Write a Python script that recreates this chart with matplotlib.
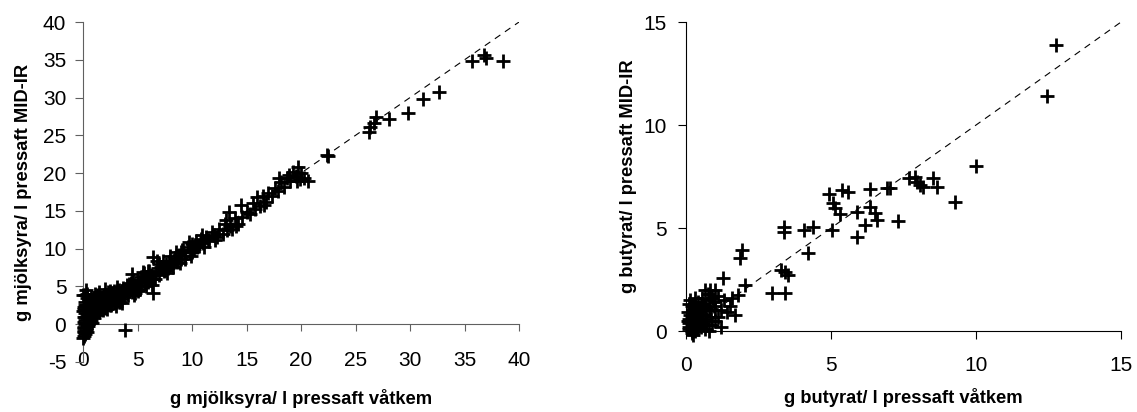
import matplotlib
matplotlib.use("Agg")
import matplotlib.pyplot as plt

plt.rcParams['font.family'] = ['Liberation Sans', 'DejaVu Sans']
plt.rcParams['axes.unicode_minus'] = False

# mjölksyra (lactic acid), wet chemistry vs MID-IR
lac_wet = [
    0.05, 0.1, 0.1, 0.15, 0.2, 0.1, 0.2, 0.1, 0.3, 0.2, 0.4, 0.3, 0.25, 0.3, 0.4, 0.5,
    0.5, 0.6, 0.6, 0.7, 0.8, 0.8, 0.9, 1.0, 1.0, 0.35, 0.45, 0.55, 0.65, 0.75, 0.15, 0.05,
    0.05, 0.2, 0.35, 0.9, 1.1, 0.4,
    0.6, 0.8, 1.0, 1.2, 1.4, 0.3, 0.5, 0.7, 0.9, 1.1, 1.3, 1.6, 1.8, 0.2, 0.4, 0.6,
    0.0, 0.0, 0.0, 0.1, 0.1, 0.2,
    1.2, 1.3, 1.4, 1.5, 1.6, 1.7, 1.8, 1.9, 2.0, 2.0, 2.1, 2.2, 2.3, 2.4, 2.5, 2.6,
    2.7, 2.8, 2.9, 3.0, 3.1, 1.1, 1.5, 2.5, 3.2, 3.3, 3.85,
    1.5, 1.9, 2.3, 2.7, 3.1, 3.4, 3.7, 4.0, 2.2, 2.6, 3.0, 3.4,
    3.5, 3.6, 3.8, 4.0, 4.1, 4.3, 4.5, 4.5, 4.7, 4.9, 5.0, 5.2, 5.4, 5.5, 5.7, 5.9,
    6.0, 6.2, 6.4, 6.45, 6.45, 6.7, 6.9, 7.0,
    4.2, 4.6, 5.0, 5.3, 5.6, 6.0, 6.3, 6.6, 4.8, 5.8, 6.8, 7.5,
    2.0, 2.8, 3.6, 4.4, 5.2, 6.1, 3.3, 4.7, 5.5,
    7.2, 7.4, 7.6, 7.8, 8.0, 8.2, 8.4, 8.6, 8.8, 9.0, 9.2, 9.4, 9.6, 9.8, 10.0, 10.2,
    10.4, 10.6, 10.8, 11.0, 11.3, 11.6, 12.0, 12.3, 7.0, 8.0, 9.0, 10.0,
    7.3, 7.9, 8.5, 9.1, 9.7, 10.3, 10.9, 11.5, 8.3, 9.4, 10.5, 11.8,
    7.7, 8.9, 9.9, 11.1, 12.1,
    12.5, 12.8, 13.0, 13.2, 13.4, 13.5, 13.7, 13.9, 14.2, 14.5, 14.6, 15.0, 15.3, 15.6,
    15.8, 16.0, 16.2, 16.5, 16.8, 17.0, 17.3, 17.6, 17.9, 18.2, 18.4, 18.7, 19.0, 19.3,
    19.5, 19.7, 20.0, 20.3, 20.6, 18.0, 19.9, 13.1, 14.0, 16.6, 18.9, 19.6,
    22.4, 22.5, 26.2, 26.3, 26.7, 26.9, 28.1, 29.8, 31.2, 32.7, 35.65, 36.8, 37.0, 38.5,
]
lac_mir = [
    -1.5, -1.0, -0.5, 0.0, 0.5, 1.0, 1.5, 2.0, 2.5, 3.0, 3.5, 4.5, -0.8, 0.2, 0.8, 1.2,
    -0.3, 0.5, 1.8, 2.2, 1.0, 0.2, 1.6, 2.6, 0.8, 1.3, 2.0, 2.8, 3.2, 3.6, 2.6, 0.3,
    -0.9, -1.3, -0.2, 3.0, 3.4, -1.0,
    2.5, 3.0, 3.5, 2.8, 3.3, 1.9, 0.0, 0.4, 2.0, 1.6, 3.8, 2.0, 3.1, 3.9, 4.0, 1.0,
    -1.8, 1.8, 3.8, -0.4, 2.3, 1.0,
    1.2, 2.0, 3.0, 1.6, 2.4, 3.6, 1.9, 2.8, 4.6, 2.2, 3.3, 2.0, 2.9, 3.8, 2.5, 3.2,
    4.0, 2.8, 3.5, 3.0, 4.9, 4.0, 4.2, 4.4, 3.8, 2.9, -0.8,
    3.0, 3.9, 4.2, 3.6, 4.4, 4.0, 4.8, 5.2, 3.5, 2.6, 2.4, 3.0,
    3.4, 4.2, 3.6, 4.5, 3.8, 4.9, 6.6, 4.2, 5.2, 4.6, 5.6, 5.0, 5.8, 6.4, 5.4, 6.1,
    5.6, 6.5, 6.0, 8.9, 4.1, 6.8, 7.4, 6.5,
    5.3, 5.9, 4.4, 6.2, 6.8, 7.0, 5.2, 6.0, 4.1, 5.0, 8.3, 7.2,
    3.6, 4.4, 2.8, 5.5, 4.6, 7.0, 4.5, 3.8, 6.9,
    7.6, 7.0, 8.0, 7.4, 8.4, 7.8, 8.8, 8.2, 9.2, 8.6, 9.8, 9.0, 10.2, 9.6, 10.6, 10.0,
    11.0, 10.4, 11.3, 10.8, 11.6, 11.0, 11.8, 11.5, 8.0, 9.0, 9.6, 9.5,
    8.4, 8.2, 9.6, 9.8, 10.9, 10.5, 11.8, 11.2, 7.6, 8.6, 10.2, 12.2,
    6.8, 8.1, 9.0, 10.2, 11.2,
    12.6, 12.0, 13.2, 12.5, 14.8, 13.0, 12.6, 14.0, 13.2, 15.8, 14.2, 14.8, 14.6, 16.0,
    15.2, 16.8, 15.6, 17.0, 16.2, 17.4, 17.0, 18.0, 17.6, 18.8, 18.2, 19.4, 19.0, 20.2,
    19.6, 20.8, 20.0, 19.4, 19.0, 19.4, 19.2, 13.8, 13.0, 15.8, 19.8, 18.9,
    22.4, 22.2, 25.5, 26.1, 26.6, 27.4, 27.2, 28.0, 29.8, 30.8, 34.8, 35.6, 35.2, 34.8,
]

# butyrat, wet chemistry vs MID-IR
but_wet = [
    0.1, 0.2, 0.1, 0.3, 0.2, 0.4, 0.3, 0.5, 0.5, 0.6, 0.7, 0.8, 0.9, 1.0, 1.1, 1.2,
    0.15, 0.05, 0.25, 0.35, 0.45, 0.55, 0.65, 0.75, 0.85, 0.95, 1.3, 1.1, 0.4, 0.2,
    0.3, 0.6, 0.7, 0.9, 1.0, 1.2, 0.8, 1.4, 0.1, 0.2, 0.3,
    0.05, 0.1, 0.15, 0.2, 0.25, 0.3, 0.35, 0.4, 0.45, 0.5, 0.55, 0.6, 0.65, 0.7, 0.3,
    0.2, 0.1, 0.4, 0.5, 0.8, 1.0, 1.5, 1.6,
    0.66, 0.83, 1.0, 1.29, 1.69, 1.8, 1.86, 1.92, 2.03, 2.95, 3.29, 3.36, 3.36, 3.41,
    3.41, 3.53, 4.05, 4.22, 4.39, 4.93, 5.02, 5.08, 5.14, 5.31, 5.37, 5.6, 5.89, 5.91,
    6.17, 6.34, 6.34, 6.52, 6.57, 6.92, 7.03, 7.32, 7.67, 7.9, 7.95, 8.06, 8.18, 8.53,
    8.64, 9.28, 10.0, 12.44, 12.75,
]
but_mir = [
    0.1, 0.3, 0.6, 0.9, 1.2, 0.5, 0.0, 0.2, 0.8, 1.3, 0.6, 1.0, 0.3, 1.4, 0.7, 1.0,
    1.5, 0.9, -0.2, 0.4, 1.1, 1.6, 0.1, 1.8, 0.7, 1.2, 1.5, 1.7, 1.4, 0.7,
    1.6, 0.4, 1.1, 1.6, 0.5, 0.2, 0.0, 0.9, 0.4, 0.0, 1.1,
    0.5, 0.2, 0.8, 0.5, 1.0, 0.3, 0.7, 0.9, 0.3, 1.0, 0.5, 0.8, 1.2, 0.3, 0.5,
    -0.1, 1.3, 0.1, 1.3, 1.5, 1.0, 1.2, 1.6,
    2.0, 2.0, 2.0, 2.56, 0.78, 1.75, 3.53, 3.93, 2.23, 1.83, 2.96, 5.06, 4.82, 2.88,
    1.83, 2.72, 4.9, 3.77, 5.06, 6.65, 4.9, 6.2, 5.95, 5.7, 6.84, 6.76, 4.55, 5.79,
    5.15, 6.88, 6.03, 5.71, 5.39, 6.93, 6.93, 5.36, 7.41, 7.49, 7.25, 7.1, 7.0, 7.41,
    7.0, 6.28, 8.02, 11.42, 13.9,
]

fig = plt.figure(figsize=(11.37, 4.12), dpi=100)

tick_font = 15
label_font = 13.2

# left panel
ax1 = fig.add_axes([0.073, 0.1214, 0.3835, 0.8252])
ax1.plot([0, 40], [0, 40], color='black', lw=0.8, ls=(0, (6, 5)), zorder=1)
ax1.plot(lac_wet, lac_mir, ls='none', marker='+', ms=10, mew=2, color='black',
         zorder=3, clip_on=False)
ax1.set_xlim(0, 40)
ax1.set_ylim(-5, 40)
ax1.set_xticks(range(0, 41, 5))
ax1.set_yticks(range(-5, 41, 5))
ax1.spines['top'].set_visible(False)
ax1.spines['right'].set_visible(False)
ax1.spines['bottom'].set_position(('data', 0))
ax1.spines['bottom'].set_color('#606060')
ax1.spines['left'].set_color('#606060')
ax1.tick_params(axis='x', direction='out', length=5, color='#606060', labelsize=tick_font, pad=14)
ax1.tick_params(axis='y', direction='out', length=6, color='#606060', labelsize=tick_font, pad=6)
ax1.set_xlabel('g mjölksyra/ l pressaft våtkem', fontsize=label_font, fontweight='bold')
ax1.set_ylabel('g mjölksyra/ l pressaft MID-IR', fontsize=label_font, fontweight='bold')
ax1.xaxis.set_label_coords(0.5, -0.08)
ax1.yaxis.set_label_coords(-0.118, 0.5)

# right panel
ax2 = fig.add_axes([0.6034, 0.1966, 0.3826, 0.75])
ax2.plot([0, 15], [0, 15], color='black', lw=0.8, ls=(0, (6, 5)), zorder=1)
ax2.plot(but_wet, but_mir, ls='none', marker='+', ms=10, mew=2, color='black',
         zorder=3, clip_on=False)
ax2.set_xlim(0, 15)
ax2.set_ylim(0, 15)
ax2.set_xticks(range(0, 16, 5))
ax2.set_yticks(range(0, 16, 5))
ax2.spines['top'].set_visible(False)
ax2.spines['right'].set_visible(False)
ax2.tick_params(axis='x', direction='out', length=6, labelsize=tick_font, pad=12)
ax2.tick_params(axis='y', direction='out', length=6, labelsize=tick_font, pad=8)
ax2.set_xlabel('g butyrat/ l pressaft våtkem', fontsize=label_font, fontweight='bold')
ax2.set_ylabel('g butyrat/ l pressaft MID-IR', fontsize=label_font, fontweight='bold')
ax2.xaxis.set_label_coords(0.5, -0.185)
ax2.yaxis.set_label_coords(-0.112, 0.5)

fig.savefig('out.png', dpi=100)
